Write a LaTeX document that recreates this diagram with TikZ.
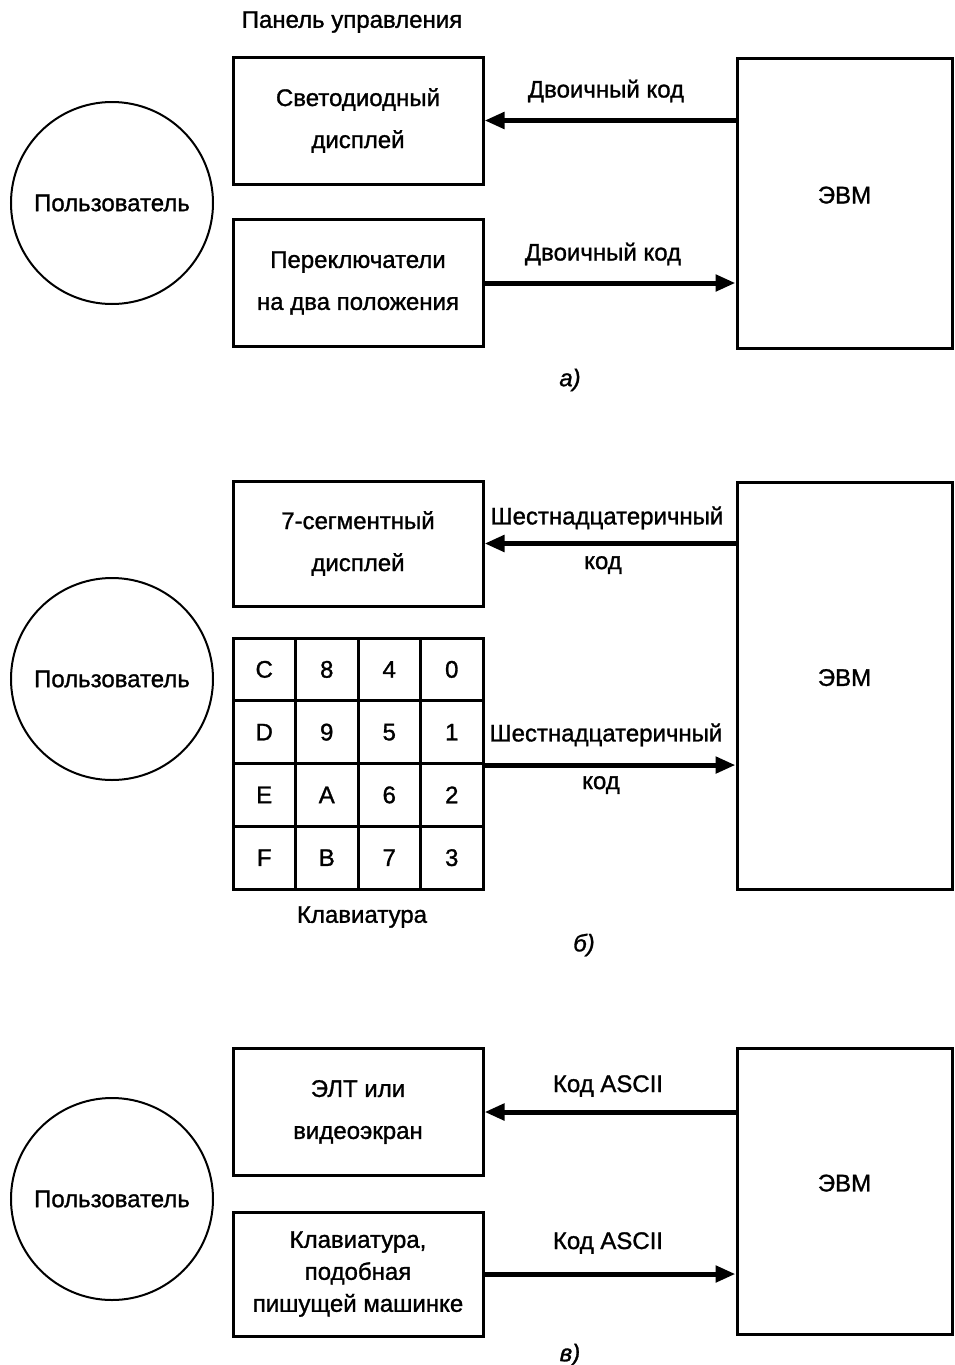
\documentclass[tikz,border=0pt]{standalone}
\usepackage{fontspec}
\setmainfont{Liberation Sans}[FakeBold=1.2]
\usetikzlibrary{arrows.meta,positioning,calc}
\tikzset{
  user/.style={draw, circle, line width=1pt, minimum size=101pt, inner sep=0pt, font=\fontsize{12}{14}\selectfont},
  panel/.style={draw, line width=1.5pt, minimum width=125pt, minimum height=63.5pt, align=center, inner sep=0pt, font=\fontsize{12}{14}\selectfont},
  evm/.style={draw, line width=1.5pt, minimum width=107.5pt, inner sep=0pt, text depth=8pt, font=\fontsize{12}{14}\selectfont},
  key/.style={draw, line width=1.5pt, minimum width=31.25pt, minimum height=31.4pt, inner sep=0pt, font=\fontsize{12}{14}\selectfont},
  link/.style={line width=2.5pt, -{Triangle[length=10pt,width=8pt]}},
  note/.style={font=\fontsize{12}{14}\selectfont, align=center},
  tag/.style={font=\fontsize{12}{14}\selectfont\itshape}
}
\begin{document}
\begin{tikzpicture}[x=0.5pt,y=-0.5pt]
  \useasboundingbox (0,0) rectangle (954,1365);

  % a) control panel
  \node[note] (titleA) at (352,22) {Панель управления};
  \node[user] (userA) at (112,203) {Пользователь};
  \node[panel] (ledA) at (358,120.5) {Светодиодный\\[7pt]дисплей};
  \node[panel] (swA) at (358,283) {Переключатели\\[7pt]на два положения};
  \node[evm, minimum height=145pt] (evmA) at (844.5,203) {ЭВМ};
  \draw[link] (evmA.west |- ledA) -- (ledA.east);
  \draw[link] (swA.east) -- (swA -| evmA.west);
  \node[note] (codeA1) at (606,91) {Двоичный код};
  \node[note] (codeA2) at (603,254) {Двоичный код};
  \node[tag] (capA) at (570,380) {а)};

  % b) hex keypad
  \node[user] (userB) at (112,679) {Пользователь};
  \node[panel, minimum height=62.5pt] (segB) at (358,543.5) {7-сегментный\\[7pt]дисплей};
  \foreach \k [count=\i from 0] in {C,8,4,0,D,9,5,1,E,A,6,2,F,B,7,3} {
    \pgfmathtruncatemacro\row{int(\i/4)}
    \pgfmathtruncatemacro\col{mod(\i,4)}
    \node[key] (k\i) at (264.25+62.5*\col,669.4+62.75*\row) {\k};
  }
  \node[note] (padB) at (362,917) {Клавиатура};
  \node[evm, minimum height=203.5pt] (evmB) at (844.5,685.5) {ЭВМ};
  \draw[link] (evmB.west |- segB) -- (segB.east);
  \draw[link] (k7.south east) -- (k7.south east -| evmB.west);
  \node[note] (hexB1) at (607,518) {Шестнадцатеричный};
  \node[note] (hexB2) at (603,565) {код};
  \node[note] (hexB3) at (606,735) {Шестнадцатеричный};
  \node[note] (hexB4) at (601,785) {код};
  \node[tag] (capB) at (584,945) {б)};

  % c) CRT terminal
  \node[user] (userC) at (112,1199) {Пользователь};
  \node[panel] (crtC) at (358,1112) {ЭЛТ или\\[7pt]видеоэкран};
  \node[panel, minimum height=62pt] (kbdC) at (358,1274) {Клавиатура,\\[2pt]подобная\\[2pt]пишущей машинке};
  \node[evm, minimum height=143pt] (evmC) at (844.5,1191) {ЭВМ};
  \draw[link] (evmC.west |- crtC) -- (crtC.east);
  \draw[link] (kbdC.east) -- (kbdC -| evmC.west);
  \node[note] (asciiC1) at (608,1086) {Код ASCII};
  \node[note] (asciiC2) at (608,1243) {Код ASCII};
  \node[tag] (capC) at (570,1355) {в)};
\end{tikzpicture}
\end{document}
